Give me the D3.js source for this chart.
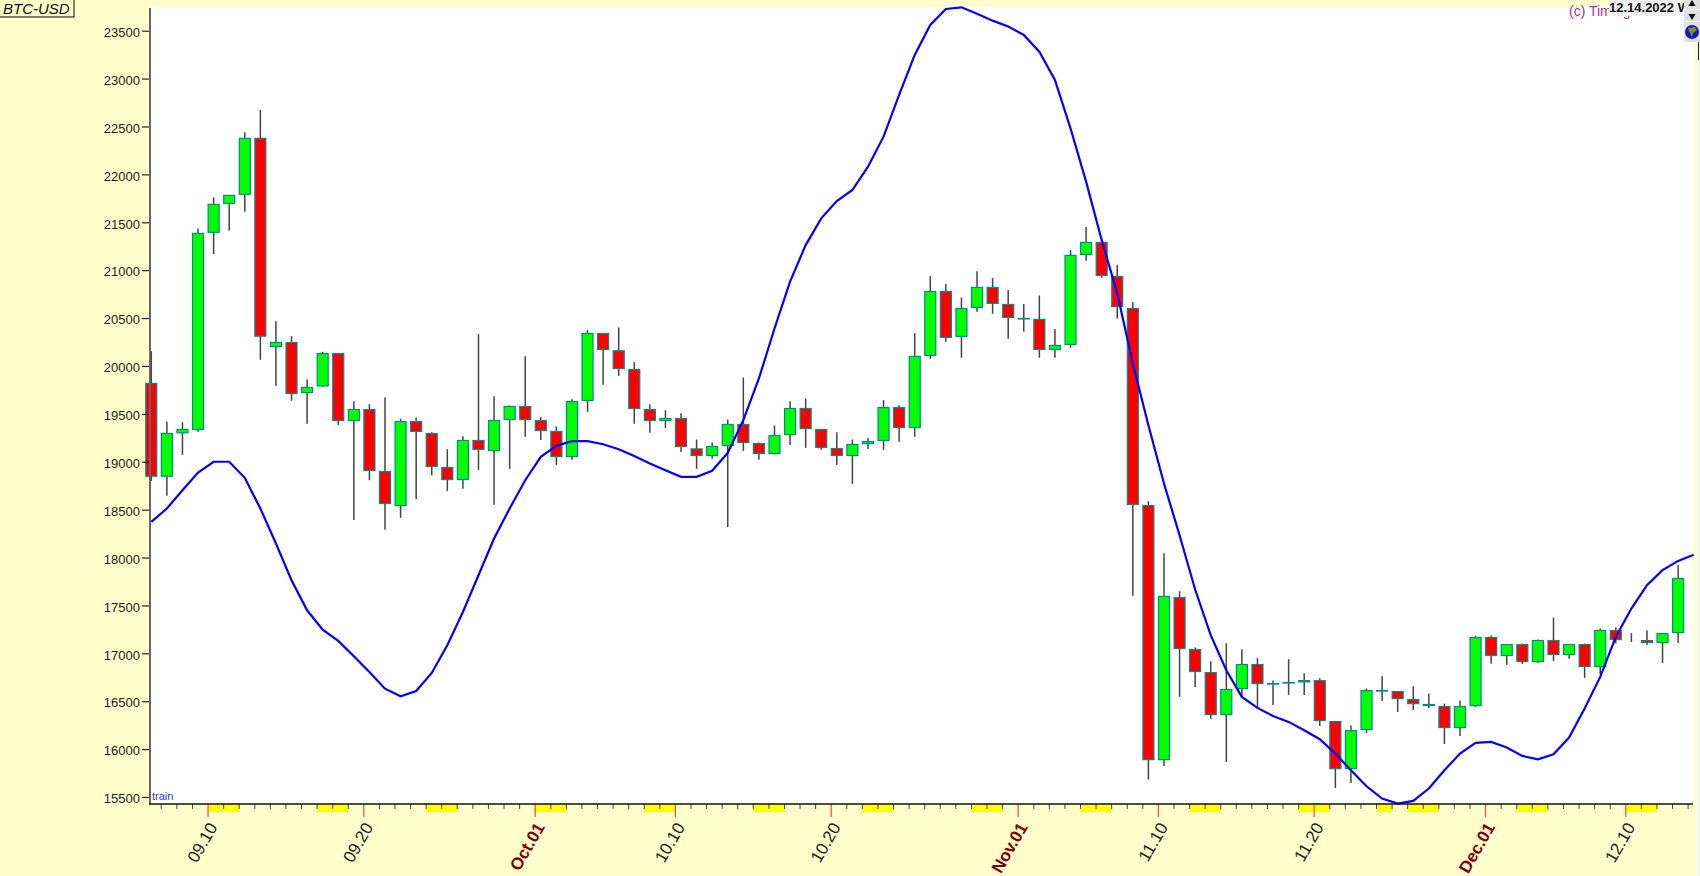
<!DOCTYPE html>
<html>
    <head>
        <title>BTC-USD</title>
        <script type="text/javascript" src="https://cdn.jsdelivr.net/npm/d3@7"></script>
        <style>
            html, body{
                margin: 0;
                padding: 0;
                background: #ffffcc;
                overflow: hidden;
            }
            svg{
                display: block;
            }
            text{
                font-family: "Liberation Sans", Arial, sans-serif;
            }
            .wick{
                stroke: #444;
                stroke-width: 1.5px;
            }
            .body{
                stroke: #008b8b;
                stroke-width: 1.2px;
            }
            #trend{
                stroke: #0000ff;
                stroke-width: 2.2px;
                fill: none;
            }
            .yaxis text{
                font-size: 13px;
                fill: #222;
            }
            .xlabel{
                font-size: 17px;
                fill: #222;
            }
            .xlabel.month{
                font-weight: bold;
                fill: #800000;
            }
        </style>
    </head>
    <body>
        <script type="text/javascript">
            // Daily candles, index 0 is Sep 6. Index 95 prints only a wick
            let opens = [19817,18849,19302,19337,21395,21697,21792,22376,20203,20245,19723,19792,20130,19430,19545,18898,18543,19420,19295,18940,
                18814,19222,19117,19441,19577,19430,19316,19054,19639,20339,20158,19963,19545,19430,19451,19134,19065,19169,19389,19190,
                19086,19284,19556,19337,19138,19065,19190,19222,19566,19357,20110,20778,20308,20611,20820,20642,20496,20486,20172,20225,
                21164,21290,20935,20600,18543,15890,17582,17039,16799,16360,16632,16883,16684,16695,16702,16715,16287,15796,16204,16611,
                16601,16517,16455,16444,16225,16454,17165,16977,17091,16914,17133,16987,17091,16862,17238,null,17133,17112,17217]
            let closes = [18849,19295,19337,21384,21687,21781,22376,20311,20245,19712,19775,20130,19430,19545,18908,18564,19420,19316,18950,18814,
                19222,19128,19430,19577,19441,19326,19054,19629,20339,20172,19973,19556,19430,19451,19159,19065,19159,19389,19201,19086,
                19274,19556,19347,19149,19065,19180,19211,19566,19357,20099,20778,20298,20600,20820,20653,20507,20496,20172,20214,21154,
                21290,20945,20621,18554,15890,17593,17050,16810,16360,16622,16883,16684,16684,16695,16715,16298,15796,16193,16611,16611,
                16527,16475,16465,16225,16444,17165,16977,17091,16914,17133,16987,17091,16862,17238,17144,null,17112,17206,17781]
            let highs = [20154,19420,19413,21436,21760,21781,22439,22672,20468,20311,19859,20147,20130,19632,19601,19671,19451,19462,19309,19131,
                19267,20332,19685,19587,20102,19465,19368,19653,20374,20339,20402,20040,19601,19538,19507,19232,19201,19441,19879,19201,
                19378,19632,19660,19337,19309,19232,19246,19643,19590,20342,20938,20855,20715,20990,20917,20792,20646,20736,20385,21210,
                21450,21342,21053,20667,18588,18045,17648,17060,16917,17105,17043,16949,16715,16938,16792,16740,16287,16246,16632,16761,
                16601,16656,16580,16475,16507,17185,17185,17091,17102,17144,17373,17091,17102,17258,17269,17210,17241,17206,17920]
            let lows = [18800,18644,19072,19312,21168,21412,21610,20064,19793,19636,19396,19782,19382,18393,18807,18289,18414,18612,18860,18696,
                18717,18915,18550,18926,19260,19228,18967,19020,19521,19803,19897,19396,19302,19354,19103,18926,19030,18320,19114,19020,
                19075,19176,19145,19124,18967,18769,19134,19124,19208,19260,20075,20252,20085,20566,20545,20284,20357,20085,20085,20190,
                21098,20921,20493,17600,15682,15824,16545,16649,16315,15866,16538,16423,16461,16566,16566,16242,15595,15647,16169,16503,
                16388,16409,16430,16054,16138,16440,16890,16879,16890,16900,16921,16942,16743,16785,17102,17119,17088,16900,17109]
            // Blue line, one value per day, runs one day past the last candle
            let trend = [18372,18511,18703,18887,19000,19000,18832,18511,18146,17763,17449,17247,17129,16969,16805,16631,16551,16607,16795,17084,
                17432,17815,18198,18511,18807,19051,19166,19215,19215,19183,19131,19061,18981,18912,18842,18842,18905,19093,19434,19869,
                20391,20880,21262,21541,21722,21837,22080,22394,22829,23247,23560,23727,23744,23678,23605,23543,23456,23281,22986,22481,
                21924,21315,20758,20026,19382,18773,18233,17666,17189,16823,16545,16430,16346,16284,16197,16103,15953,15779,15612,15483,
                15431,15459,15588,15779,15953,16065,16075,16016,15929,15894,15946,16120,16423,16754,17171,17467,17711,17868,17965,18028]

            let yTicks = [15500,16000,16500,17000,17500,18000,18500,19000,19500,20000,20500,21000,21500,22000,22500,23000,23500]
            let xLabelIdx = [4,14,25,34,44,56,65,75,86,95]
            let xLabels = ["09.10","09.20","Oct.01","10.10","10.20","Nov.01","11.10","11.20","Dec.01","12.10"]
            let monthLabels = ["Oct.01","Nov.01","Dec.01"]
            let offDays = [4,5,11,12,18,19,25,26,32,33,39,40,46,47,53,54,60,61,67,68,74,75,79,81,82,88,89,95,96]

            let w = 1700
            let h = 876
            let plotLeft = 150
            let plotRight = 1693
            let plotTop = 7
            let plotBottom = 804
            let tickShift = -5.6

            let svg = d3.select("body")
                        .append("svg")
                        .attr("width",w)
                        .attr("height",h)

            let xScale = d3.scaleLinear()
                            .domain([0,99])
                            .range([151.3,1693.7])
            // time ticks sit on the left edge of each candle
            let tickScale = d3.scaleLinear()
                            .domain([0,99])
                            .range([151.3+tickShift,1693.7+tickShift])
            let yScale = d3.scaleLinear()
                            .domain([15500,23500])
                            .range([797,30.7])

            svg.append("rect")
                .attr("x",plotLeft)
                .attr("y",plotTop)
                .attr("width",plotRight-plotLeft)
                .attr("height",plotBottom-plotTop)
                .attr("fill","white")
            svg.append("rect")
                .attr("x",1697)
                .attr("y",40)
                .attr("width",3)
                .attr("height",h-40)
                .attr("fill","#f4f4f4")

            // Weekend and holiday blocks under the time axis
            svg.selectAll(".offday")
                .data(offDays)
                .enter()
                .append("rect")
                .attr("class","offday")
                .attr("x",d=>tickScale(d))
                .attr("y",plotBottom)
                .attr("width",tickScale(1)-tickScale(0))
                .attr("height",8)
                .attr("fill","#ffff00")

            // Candles
            let days = d3.range(opens.length)
            svg.selectAll(".wick")
                .data(days)
                .enter()
                .append("line")
                .attr("class","wick")
                .attr("x1",d=>xScale(d))
                .attr("x2",d=>xScale(d))
                .attr("y1",d=>yScale(highs[d]))
                .attr("y2",d=>yScale(lows[d]))
            svg.selectAll(".body")
                .data(days.filter(d=>opens[d]!==null))
                .enter()
                .append("rect")
                .attr("class","body")
                .attr("x",d=>xScale(d)-5.5)
                .attr("width",11)
                .attr("y",d=>yScale(Math.max(opens[d],closes[d])))
                .attr("height",d=>Math.max(0.5,Math.abs(yScale(opens[d])-yScale(closes[d]))))
                .attr("fill",d=>closes[d]>=opens[d] ? "#00ff00" : "#ff0000")

            let line = d3.line()
                            .x((d,i)=>xScale(i))
                            .y(d=>yScale(d))
            svg.append("path")
                .datum(trend)
                .attr("d",line)
                .attr("id","trend")

            // Axes
            let yAxis = d3.axisLeft()
                            .scale(yScale)
                            .tickValues(yTicks)
                            .tickFormat(d3.format("d"))
                            .tickSize(8)
                            .tickPadding(2)
            let yG = svg.append("g")
                .attr("class","yaxis")
                .attr("transform","translate("+plotLeft+",0)")
                .call(yAxis)
            yG.select(".domain").remove()
            yG.selectAll("line").attr("stroke","#222").attr("stroke-width",1.2)
            yG.selectAll("text").attr("dy","0.44em")
            svg.append("line")
                .attr("x1",plotLeft)
                .attr("x2",plotLeft)
                .attr("y1",plotTop+1)
                .attr("y2",plotBottom)
                .attr("stroke","#666")
                .attr("stroke-width",2)

            let minorAxis = d3.axisBottom()
                            .scale(tickScale)
                            .tickValues(d3.range(1,100).filter(d=>!xLabelIdx.includes(d)))
                            .tickFormat("")
                            .tickSize(5)
                            .offset(0)
            let minorG = svg.append("g")
                .attr("transform","translate(0,"+plotBottom+")")
                .call(minorAxis)
            minorG.select(".domain").remove()
            minorG.selectAll("line").attr("stroke","#444")

            let majorAxis = d3.axisBottom()
                            .scale(tickScale)
                            .tickValues(xLabelIdx)
                            .tickFormat("")
                            .tickSize(13)
                            .offset(0)
            let majorG = svg.append("g")
                .attr("transform","translate(0,"+plotBottom+")")
                .call(majorAxis)
            majorG.select(".domain").remove()
            majorG.selectAll("line").attr("stroke","#ff4444").attr("stroke-width",1.2)

            svg.append("line")
                .attr("x1",plotLeft-1)
                .attr("x2",plotRight)
                .attr("y1",plotBottom)
                .attr("y2",plotBottom)
                .attr("stroke","#111")
                .attr("stroke-width",1.5)

            svg.selectAll(".xlabel")
                .data(xLabels)
                .enter()
                .append("text")
                .attr("class",d=>monthLabels.includes(d) ? "xlabel month" : "xlabel")
                .attr("text-anchor","end")
                .attr("transform",(d,i)=>"translate("+(tickScale(xLabelIdx[i])+10)+",827) rotate(-60)")
                .text(d=>d)

            // Ticker box, top left
            svg.append("rect")
                .attr("x",-2)
                .attr("y",-2)
                .attr("width",76)
                .attr("height",19)
                .attr("fill","#ffffcc")
                .attr("stroke","#000")
            svg.append("text")
                .attr("x",3)
                .attr("y",14)
                .attr("font-size",15)
                .attr("font-style","italic")
                .attr("fill","#111")
                .text("BTC-USD")

            svg.append("text")
                .attr("x",152)
                .attr("y",800)
                .attr("font-size",11)
                .attr("fill","#3333ff")
                .text("train")

            // Top right corner: credit, date box, scroll buttons and globe
            svg.append("text")
                .attr("x",1569)
                .attr("y",16)
                .attr("font-size",14)
                .attr("fill","#a030a0")
                .text("(c) Timing")
            svg.append("clipPath")
                .attr("id","dateclip")
                .append("rect")
                .attr("x",1609)
                .attr("y",0)
                .attr("width",75)
                .attr("height",16)
            svg.append("rect")
                .attr("x",1609)
                .attr("y",0)
                .attr("width",75)
                .attr("height",16)
                .attr("fill","#f0f0f0")
            svg.append("text")
                .attr("x",1609)
                .attr("y",12)
                .attr("font-size",13)
                .attr("font-weight","bold")
                .attr("fill","#111")
                .attr("clip-path","url(#dateclip)")
                .text("12.14.2022 W")

            svg.append("rect").attr("x",1684).attr("y",0).attr("width",16).attr("height",42).attr("fill","#e0e0e0")
            svg.append("rect").attr("x",1684).attr("y",9).attr("width",16).attr("height",1).attr("fill","#f8f8f8")
            svg.append("rect").attr("x",1684).attr("y",21).attr("width",16).attr("height",1).attr("fill","#f8f8f8")
            svg.append("path")
                .attr("d",d3.symbol(d3.symbolTriangle,22))
                .attr("transform","translate(1692,4)")
                .attr("fill","#111")
            svg.append("path")
                .attr("d",d3.symbol(d3.symbolTriangle,22))
                .attr("transform","translate(1692,16) rotate(180)")
                .attr("fill","#111")
            svg.append("circle").attr("cx",1692).attr("cy",32).attr("r",7).attr("fill","#0a1fc4")
            svg.append("path")
                .attr("d","M1688 28 L1695 27 L1697 30 L1693 33 L1692 37 L1690 33 Z")
                .attr("fill","#8a8a20")
            svg.append("line")
                .attr("x1",1698.5).attr("x2",1698.5)
                .attr("y1",42).attr("y2",60)
                .attr("stroke","#222")
        </script>
    </body>
</html>
